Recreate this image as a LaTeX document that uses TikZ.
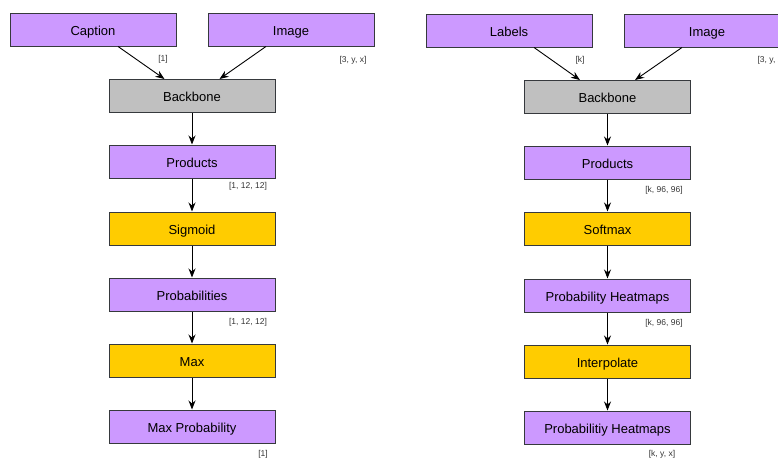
\documentclass[tikz,border=0pt]{standalone}
\usepackage{fontspec}
\setmainfont{Liberation Sans}
\usetikzlibrary{arrows.meta,calc}
\definecolor{purp}{HTML}{CC99FF}
\definecolor{grayfill}{HTML}{C0C0C0}
\definecolor{yel}{HTML}{FFCC00}
\definecolor{edge}{HTML}{36393D}
\begin{document}
\begin{tikzpicture}[x=1pt,y=-1pt,
  box/.style={draw=edge,line width=1pt,minimum width=166pt,minimum height=33pt,inner sep=0pt,text height=11.5pt,text depth=0pt,font=\fontsize{13}{15}\selectfont},
  pbox/.style={box,fill=purp},
  gbox/.style={box,fill=grayfill},
  ybox/.style={box,fill=yel},
  lbl/.style={font=\fontsize{8.5}{10}\selectfont,text=black!80,inner sep=0pt},
  arr/.style={line width=0.9pt,-{Stealth[length=9pt,width=7pt]}}]
\useasboundingbox (0,0) rectangle (778,458);
\clip (0,0) rectangle (778,458);
% left
\node[pbox] (cap) at (93,29.5) {Caption};
\node[pbox] (img) at (291,29.5) {Image};
\node[gbox] (bb) at (192,96) {Backbone};
\node[pbox] (prod) at (192,161.5) {Products};
\node[ybox] (sig) at (192,228.5) {Sigmoid};
\node[pbox] (prob) at (192,294.5) {Probabilities};
\node[ybox] (max) at (192,360.5) {Max};
\node[pbox] (maxp) at (192,426.5) {Max Probability};
\node[lbl] (l1) at (163,59) {[1]};
\node[lbl] (l2) at (353,60) {[3, y, x]};
\node[lbl] (l3) at (248,186) {[1, 12, 12]};
\node[lbl] (l4) at (248,322) {[1, 12, 12]};
\node[lbl] (l5) at (263,454) {[1]};
\draw[arr] ($(cap.south)!0.3!(cap.south east)$) -- ($(bb.north)!0.33!(bb.north west)$);
\draw[arr] ($(img.south)!0.3!(img.south west)$) -- ($(bb.north)!0.33!(bb.north east)$);
\draw[arr] (bb) -- (prod);
\draw[arr] (prod) -- (sig);
\draw[arr] (sig) -- (prob);
\draw[arr] (prob) -- (max);
\draw[arr] (max) -- (maxp);
% right
\node[pbox] (lab) at (509,30.5) {Labels};
\node[pbox] (img2) at (707,30.5) {Image};
\node[gbox] (bb2) at (607.5,97) {Backbone};
\node[pbox] (prod2) at (607.5,162.5) {Products};
\node[ybox] (soft) at (607.5,228.5) {Softmax};
\node[pbox] (ph) at (607.5,295.5) {Probability Heatmaps};
\node[ybox] (interp) at (607.5,361.5) {Interpolate};
\node[pbox] (ph2) at (607.5,427.5) {Probabilitiy Heatmaps};
\node[lbl] (r1) at (580,60) {[k]};
\node[lbl] (r2) at (771,60) {[3, y, x]};
\node[lbl] (r3) at (664,190) {[k, 96, 96]};
\node[lbl] (r4) at (664,323) {[k, 96, 96]};
\node[lbl] (r5) at (662,454) {[k, y, x]};
\draw[arr] ($(lab.south)!0.3!(lab.south east)$) -- ($(bb2.north)!0.33!(bb2.north west)$);
\draw[arr] ($(img2.south)!0.3!(img2.south west)$) -- ($(bb2.north)!0.33!(bb2.north east)$);
\draw[arr] (bb2) -- (prod2);
\draw[arr] (prod2) -- (soft);
\draw[arr] (soft) -- (ph);
\draw[arr] (ph) -- (interp);
\draw[arr] (interp) -- (ph2);
\end{tikzpicture}
\end{document}
